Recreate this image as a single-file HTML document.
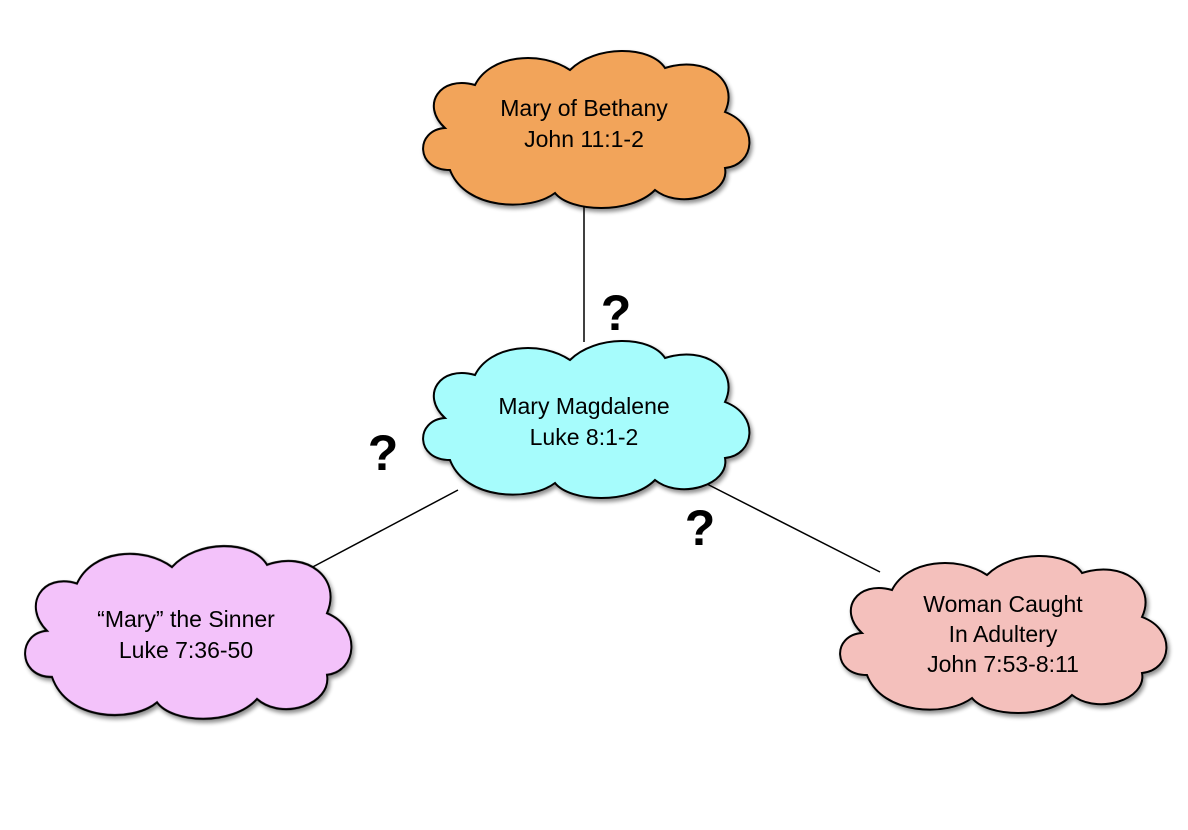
<!DOCTYPE html>
<html><head><meta charset="utf-8"><style>
html,body{margin:0;padding:0;background:#fff;}
svg{display:block;}
text{font-family:"Liberation Sans",sans-serif;}
</style></head><body>
<svg width="1188" height="830" viewBox="0 0 1188 830" xmlns="http://www.w3.org/2000/svg">
<defs>
<path id="cloud" d="M30,120 C-5,120 -5,80 25,78 C0,55 20,25 55,35 C70,5 120,0 150,20 C175,-5 230,-5 245,18 C285,5 320,30 305,62 C340,75 335,115 305,118 C310,145 260,160 235,140 C210,165 150,162 135,143 C110,162 45,160 30,120 Z"/>
<filter id="sh" x="-10%" y="-10%" width="130%" height="130%"><feGaussianBlur in="SourceAlpha" stdDeviation="2"/><feOffset dx="2" dy="3"/><feComponentTransfer><feFuncA type="linear" slope="0.45"/></feComponentTransfer><feMerge><feMergeNode/><feMergeNode in="SourceGraphic"/></feMerge></filter>
</defs>
<g stroke="#000" stroke-width="1.5">
<line x1="584" y1="200" x2="584" y2="342"/>
<line x1="458" y1="490" x2="307" y2="570"/>
<line x1="705" y1="483" x2="880" y2="572"/>
</g>
<g filter="url(#sh)" stroke="#000" stroke-width="2">
<use href="#cloud" transform="translate(420,50)" fill="#f2a45a"/>
<use href="#cloud" transform="translate(420,340)" fill="#a6fcfc"/>
<use href="#cloud" transform="translate(22,545) scale(1,1.1)" fill="#f3c2fa"/>
<use href="#cloud" transform="translate(837,555)" fill="#f4c0bc"/>
</g>
<g font-size="23" text-anchor="middle" fill="#000">
<text x="584" y="116">Mary of Bethany</text>
<text x="584" y="147">John 11:1-2</text>
<text x="584" y="414">Mary Magdalene</text>
<text x="584" y="445">Luke 8:1-2</text>
<text x="186" y="627">“Mary” the Sinner</text>
<text x="186" y="658">Luke 7:36-50</text>
<text x="1003" y="612">Woman Caught</text>
<text x="1003" y="642">In Adultery</text>
<text x="1003" y="672">John 7:53-8:11</text>
</g>
<g font-size="50" font-weight="bold" text-anchor="middle" fill="#000">
<text x="616" y="330">?</text>
<text x="383" y="470">?</text>
<text x="700" y="545">?</text>
</g>
</svg>
</body></html>
